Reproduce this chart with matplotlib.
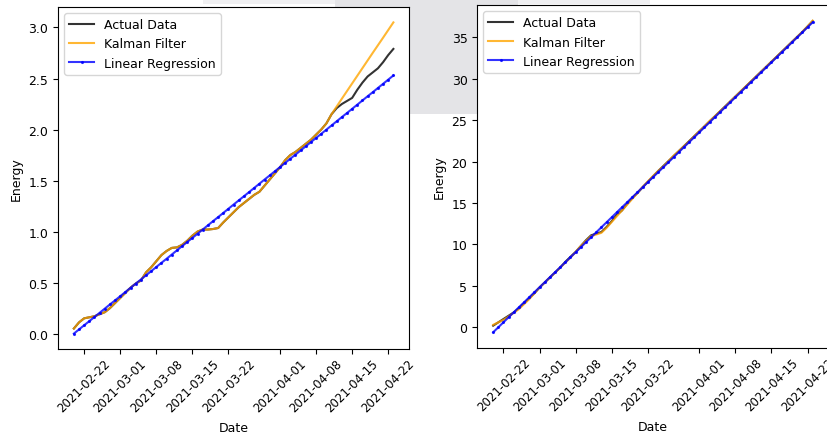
import numpy as np
import pandas as pd
import matplotlib.pyplot as plt
from matplotlib.patches import Rectangle

plt.rcParams['font.size'] = 9

dates = pd.date_range('2021-02-20', '2021-04-23', freq='D')

# left panel
lin_1 = [0.000, 0.041, 0.082, 0.122, 0.163, 0.204, 0.245, 0.286, 0.326, 0.367,
         0.408, 0.449, 0.490, 0.530, 0.571, 0.612, 0.653, 0.694, 0.734, 0.775,
         0.816, 0.857, 0.898, 0.938, 0.979, 1.020, 1.061, 1.102, 1.142, 1.183,
         1.224, 1.265, 1.306, 1.346, 1.387, 1.428, 1.469, 1.510, 1.550, 1.591,
         1.632, 1.673, 1.714, 1.754, 1.795, 1.836, 1.877, 1.918, 1.958, 1.999,
         2.040, 2.081, 2.122, 2.162, 2.203, 2.244, 2.285, 2.326, 2.366, 2.407,
         2.448, 2.489, 2.530]
kal_1 = [0.05, 0.11, 0.15, 0.16, 0.17, 0.19, 0.21, 0.25, 0.30, 0.35,
         0.40, 0.45, 0.49, 0.52, 0.60, 0.65, 0.71, 0.77, 0.81, 0.84,
         0.845, 0.87, 0.91, 0.96, 1.00, 1.02, 1.02, 1.025, 1.035, 1.09,
         1.14, 1.19, 1.24, 1.28, 1.32, 1.36, 1.39, 1.45, 1.51, 1.57,
         1.63, 1.70, 1.75, 1.78, 1.82, 1.86, 1.90, 1.95, 2.00, 2.06,
         2.15, 2.226, 2.302, 2.377, 2.452, 2.527, 2.602, 2.677, 2.752, 2.826,
         2.900, 2.975, 3.05]
act_1 = [0.05, 0.11, 0.15, 0.16, 0.17, 0.19, 0.21, 0.25, 0.30, 0.35,
         0.40, 0.45, 0.49, 0.52, 0.60, 0.65, 0.71, 0.77, 0.81, 0.84,
         0.845, 0.87, 0.91, 0.96, 1.00, 1.02, 1.02, 1.025, 1.035, 1.09,
         1.14, 1.19, 1.24, 1.28, 1.32, 1.36, 1.39, 1.45, 1.51, 1.57,
         1.63, 1.70, 1.75, 1.78, 1.82, 1.86, 1.90, 1.95, 2.00, 2.06,
         2.15, 2.21, 2.25, 2.28, 2.31, 2.39, 2.46, 2.52, 2.56, 2.60,
         2.66, 2.73, 2.79]

# right panel
lin_2 = [-0.60, 0.00, 0.61, 1.21, 1.81, 2.42, 3.02, 3.62, 4.23, 4.83,
         5.43, 6.04, 6.64, 7.24, 7.84, 8.45, 9.05, 9.65, 10.26, 10.86,
         11.46, 12.07, 12.67, 13.27, 13.88, 14.48, 15.08, 15.69, 16.29, 16.89,
         17.50, 18.10, 18.70, 19.31, 19.91, 20.51, 21.12, 21.72, 22.32, 22.92,
         23.53, 24.13, 24.73, 25.34, 25.94, 26.54, 27.15, 27.75, 28.35, 28.96,
         29.56, 30.16, 30.77, 31.37, 31.97, 32.58, 33.18, 33.78, 34.39, 34.99,
         35.59, 36.20, 36.80]
kal_2 = [0.30, 0.60, 0.90, 1.30, 1.75, 2.20, 2.80, 3.40, 4.10, 4.80,
         5.40, 6.00, 6.60, 7.20, 7.80, 8.40, 9.10, 9.80, 10.40, 11.00,
         11.20, 11.40, 12.00, 12.70, 13.40, 14.10, 14.80, 15.50, 16.20, 16.95,
         17.60, 18.25, 18.85, 19.40, 20.05, 20.70, 21.25, 21.85, 22.40, 23.05,
         23.65, 24.25, 24.90, 25.45, 26.05, 26.60, 27.25, 27.85, 28.45, 29.05,
         29.65, 30.25, 30.85, 31.45, 32.05, 32.65, 33.25, 33.85, 34.45, 35.05,
         35.65, 36.30, 37.00]
act_2 = [0.20, 0.60, 1.00, 1.40, 1.80, 2.30, 2.90, 3.50, 4.10, 4.80,
         5.40, 6.00, 6.60, 7.20, 7.90, 8.50, 9.10, 9.80, 10.50, 11.10,
         11.30, 11.50, 12.10, 12.80, 13.60, 14.10, 14.90, 15.60, 16.20, 16.90,
         17.55, 18.20, 18.85, 19.45, 20.05, 20.65, 21.25, 21.85, 22.45, 23.05,
         23.65, 24.25, 24.85, 25.45, 26.05, 26.65, 27.25, 27.85, 28.45, 29.05,
         29.65, 30.25, 30.85, 31.45, 32.05, 32.65, 33.25, 33.85, 34.45, 35.05,
         35.65, 36.30, 36.95]

fig = plt.figure(figsize=(8.27, 4.35), dpi=100)

# grey screenshot overlay behind the axes
fig.patches.append(Rectangle((0.245, 0.988), 0.541, 0.012, transform=fig.transFigure,
                             facecolor='#f0f0f2', edgecolor='none', zorder=-2))
fig.patches.append(Rectangle((0.405, 0.736), 0.221, 0.264, transform=fig.transFigure,
                             facecolor='#e4e4e7', edgecolor='none', zorder=-1))

ax1 = fig.add_axes([0.070, 0.195, 0.425, 0.787])
ax2 = fig.add_axes([0.577, 0.198, 0.425, 0.788])

for ax, act, kal, lin in [(ax1, act_1, kal_1, lin_1), (ax2, act_2, kal_2, lin_2)]:
    ax.plot(dates, act, color='black', alpha=0.8, linewidth=1.5, label='Actual Data')
    ax.plot(dates, kal, color='orange', alpha=0.8, linewidth=1.5, label='Kalman Filter')
    ax.plot(dates, lin, color='blue', alpha=0.8, linewidth=1.5, marker='.',
            markersize=2.5, label='Linear Regression')
    ax.set_xlabel('Date', va='center')
    ax.xaxis.set_label_coords(0.5, -0.228)
    ax.set_ylabel('Energy')
    ax.legend(loc='upper left')
    ax.tick_params(axis='x', labelsize=8.5, pad=2)
    plt.setp(ax.get_xticklabels(), rotation=45)

ax1.set_yticks([0.0, 0.5, 1.0, 1.5, 2.0, 2.5, 3.0])

fig.savefig('out.png', dpi=100)
